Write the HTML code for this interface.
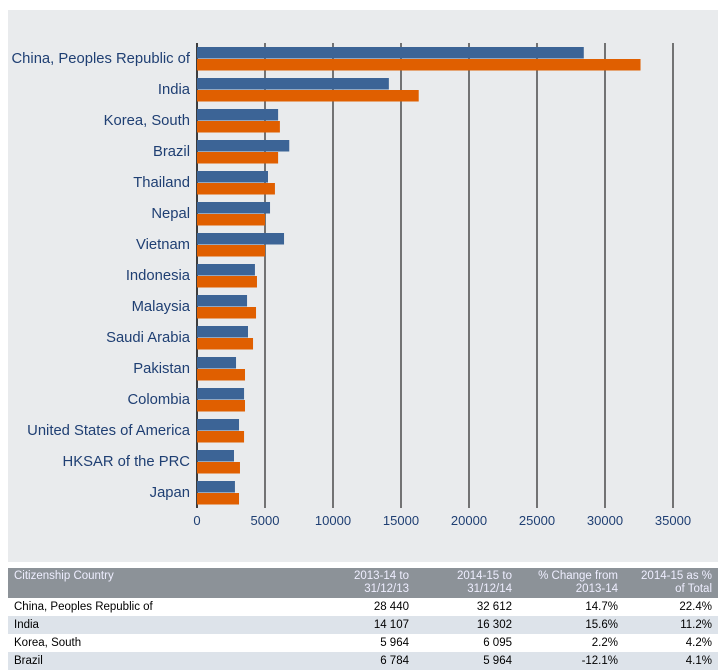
<!DOCTYPE html>
<html><head><meta charset="utf-8"><style>
body{margin:0;width:726px;height:663px;background:#fff;overflow:hidden;font-family:"Liberation Sans","Noto Sans CJK SC",sans-serif}
#bg{position:absolute;left:8px;top:10px;width:710px;height:552px;background:#e9ebed}
table{position:absolute;left:8px;top:568px;width:710px;border-collapse:collapse;font-size:11.5px;table-layout:fixed}
th{background:#8c9298;color:#eef;font-weight:normal;text-align:right;padding:2px 6px;height:24px;vertical-align:top;line-height:13px;box-sizing:border-box}
th:first-child{text-align:left}
td{height:18px;padding:0 6px;text-align:right;color:#000}
td:first-child{text-align:left}
tr.alt td{background:#dde3ea}
</style></head><body>
<div id="bg"></div>
<svg id="chart" width="726" height="560" style="position:absolute;left:0;top:0"></svg>
<table>
<colgroup><col style="width:300px"><col style="width:107px"><col style="width:103px"><col style="width:106px"><col style="width:94px"></colgroup>
<tr><th>Citizenship Country</th><th>2013-14 to<br>31/12/13</th><th>2014-15 to<br>31/12/14</th><th>% Change from<br>2013-14</th><th>2014-15 as %<br>of Total</th></tr>
<tr><td>China, Peoples Republic of</td><td>28 440</td><td>32 612</td><td>14.7%</td><td>22.4%</td></tr>
<tr class="alt"><td>India</td><td>14 107</td><td>16 302</td><td>15.6%</td><td>11.2%</td></tr>
<tr><td>Korea, South</td><td>5 964</td><td>6 095</td><td>2.2%</td><td>4.2%</td></tr>
<tr class="alt"><td>Brazil</td><td>6 784</td><td>5 964</td><td>-12.1%</td><td>4.1%</td></tr>
</table>
<script>
const categories=["China, Peoples Republic of","India","Korea, South","Brazil","Thailand","Nepal","Vietnam","Indonesia","Malaysia","Saudi Arabia","Pakistan","Colombia","United States of America","HKSAR of the PRC","Japan"];
const series2013=[28440,14107,5964,6784,5220,5370,6400,4260,3680,3750,2870,3460,3090,2720,2790];
const series2014=[32612,16302,6095,5964,5730,5000,5000,4410,4340,4120,3530,3530,3460,3160,3090];
const ticks=[0,5000,10000,15000,20000,25000,30000,35000];
const svg=document.getElementById('chart');const NS='http://www.w3.org/2000/svg';
const x=v=>197+v/35000*476;
const top0=43,rowH=31;
function mk(t,a,name){const e=document.createElementNS(NS,t);for(const k in a)e.setAttribute(k,a[k]);


svg.appendChild(e);return e;}
ticks.forEach(t=>{mk('line',{x1:x(t),x2:x(t),y1:top0,y2:top0+rowH*15,stroke:'#111','stroke-width':t==0?1.6:1.1},'gridline');
const l=mk('text',{x:x(t),y:525,'text-anchor':'middle','font-size':13,fill:'#1f3f73'},'x-tick-label');l.textContent=t;});
categories.forEach((c,i)=>{const y0=top0+i*rowH;
mk('rect',{x:x(0),y:y0+4,width:x(series2013[i])-x(0),height:11.5,fill:'#3c6496'},'bar-2013');
mk('rect',{x:x(0),y:y0+16,width:x(series2014[i])-x(0),height:11.5,fill:'#e05f00'},'bar-2014');
const t=mk('text',{x:190,y:y0+20,'text-anchor':'end','font-size':14.8,fill:'#1f3f73'},'category-label');t.textContent=c;});
</script>
</body></html>
